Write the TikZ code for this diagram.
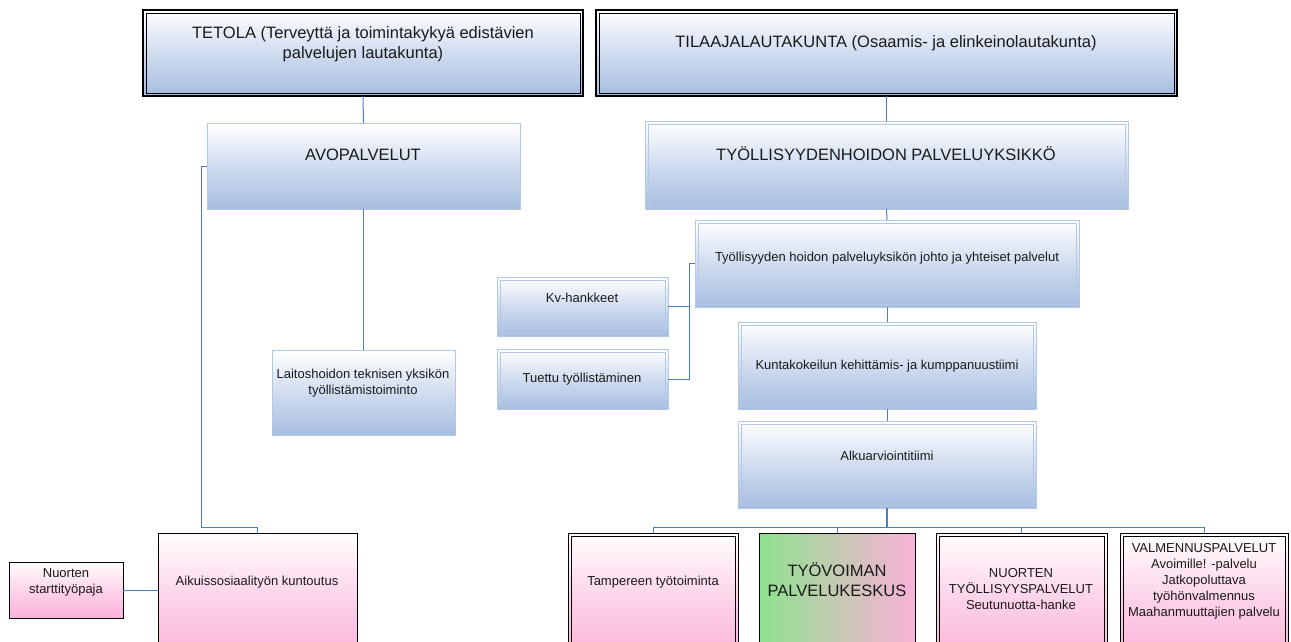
\documentclass[tikz,border=0pt]{standalone}
\usepackage{fontspec}
\setmainfont{Liberation Sans}
\definecolor{bluebot}{HTML}{A6BDE0}
\definecolor{bluemid}{HTML}{D0DCEF}
\definecolor{lbline}{HTML}{B3C7E7}
\definecolor{pinkc}{HTML}{FBB1D9}
\definecolor{pinkmid}{HTML}{FDD3EA}
\definecolor{greenc}{HTML}{8DE38D}
\definecolor{connc}{HTML}{4A7EC4}
\definecolor{textc}{HTML}{1A1A1A}
\newcommand\mkbox[6]{\node[#1, anchor=north west, inner sep=0pt, outer sep=0pt,
  minimum width={(#5-#3)*1pt}, minimum height={(#6-#4)*1pt}] (#2) at (#3,#4) {};}
\begin{document}
\begin{tikzpicture}[x=1pt,y=-1pt,
  blueg/.style={top color=white, bottom color=bluebot, middle color=bluemid},
  pinkg/.style={top color=white, bottom color=pinkc, middle color=pinkmid},
  topbox/.style={blueg, draw=black, line width=1.4pt},
  lbdouble/.style={blueg, draw=lbline, line width=1pt},
  lbsingle/.style={blueg, draw=lbline, line width=1pt},
  pinkdouble/.style={pinkg, draw=black, line width=1pt},
  pinksingle/.style={pinkg, draw=black, line width=1pt},
  greenbox/.style={left color=greenc, right color=pinkc, draw=black, line width=1pt},
  innerblk/.style={draw=black, line width=0.9pt},
  innerlb/.style={draw=lbline, line width=0.9pt},
  bigt/.style={font=\fontsize{16.5}{20}\selectfont, align=center, inner sep=0pt, text=textc},
  smallt/.style={font=\fontsize{13}{16}\selectfont, align=center, inner sep=0pt, text=textc},
  conn/.style={draw=connc, line width=1pt}]
\useasboundingbox (0,0) rectangle (1291,641);
\clip (0,0) rectangle (1291,641);
\fill[white] (0,0) rectangle (1291,641);

% boxes
\mkbox{topbox}{tetola}{143}{10}{583}{96}
\mkbox{topbox}{tilaaja}{596}{10}{1177}{96}
\mkbox{lbsingle}{avo}{207}{123}{520}{209}
\mkbox{lbdouble}{tyoll}{645}{121}{1128}{209}
\mkbox{lbsingle}{laitos}{272}{350}{455}{435}
\mkbox{lbdouble}{johto}{695}{220}{1079}{307}
\mkbox{lbdouble}{kv}{497}{277}{668}{336}
\mkbox{lbdouble}{tuettu}{497}{349}{668}{409}
\mkbox{lbdouble}{kunta}{738}{322}{1036}{409}
\mkbox{lbdouble}{alku}{738}{421}{1036}{508}
\mkbox{pinksingle}{aikuis}{158}{533}{357}{662}
\mkbox{pinksingle}{start}{9}{562}{123}{618}
\mkbox{pinkdouble}{tamp}{568}{533}{738}{662}
\mkbox{greenbox}{tyov}{759}{533}{915}{662}
\mkbox{pinkdouble}{nuort}{936}{533}{1107}{662}
\mkbox{pinkdouble}{valm}{1120}{533}{1288}{662}

% inner lines of the double borders
\foreach \n in {tetola,tilaaja}
  \draw[innerblk] ([shift={(3,3)}]\n.north west) rectangle ([shift={(-3,-3)}]\n.south east);
\foreach \n in {tamp,nuort,valm}
  \draw[innerblk] ([shift={(3,3)}]\n.north west) rectangle ([shift={(-3,-3)}]\n.south east);
\foreach \n in {tyoll,johto,kv,tuettu,kunta,alku}
  \draw[innerlb] ([shift={(3,3)}]\n.north west) rectangle ([shift={(-3,-3)}]\n.south east);

% texts
\node[bigt] (tetolaT) at (363,44) {TETOLA (Terveyttä ja toimintakykyä edistävien\\palvelujen lautakunta)};
\node[bigt] (tilaajaT) at (886,43) {TILAAJALAUTAKUNTA (Osaamis- ja elinkeinolautakunta)};
\node[bigt] (avoT) at (363,155) {AVOPALVELUT};
\node[bigt] (tyollT) at (886,154) {TYÖLLISYYDENHOIDON PALVELUYKSIKKÖ};
\node[smallt] (laitosT) at (363,383) {Laitoshoidon teknisen yksikön\\työllistämistoiminto};
\node[smallt] (johtoT) at (887,258) {Työllisyyden hoidon palveluyksikön johto ja yhteiset palvelut};
\node[smallt] (kvT) at (582,298) {Kv-hankkeet};
\node[smallt] (tuettuT) at (582,379) {Tuettu työllistäminen};
\node[smallt] (kuntaT) at (887,366) {Kuntakokeilun kehittämis- ja kumppanuustiimi};
\node[smallt] (alkuT) at (887,456) {Alkuarviointitiimi};
\node[smallt] (aikuisT) at (257,582) {Aikuissosiaalityön kuntoutus};
\node[smallt] (startT) at (66,582) {Nuorten\\starttityöpaja};
\node[smallt] (tampT) at (653,582) {Tampereen työtoiminta};
\node[bigt] (tyovT) at (837,580) {TYÖVOIMAN\\PALVELUKESKUS};
\node[smallt] (nuortT) at (1021,589) {NUORTEN\\TYÖLLISYYSPALVELUT\\Seutunuotta-hanke};
\node[smallt] (valmT) at (1204,581) {VALMENNUSPALVELUT\\Avoimille! -palvelu\\Jatkopoluttava\\työhönvalmennus\\Maahanmuuttajien palvelu};

% connectors
\coordinate (lbend) at (201,527);
\coordinate (jb) at (689,263.5);
\coordinate (bus) at (887,527);
\draw[conn] (tetola.south) -- (avo.north);
\draw[conn] (avo.south) -- (laitos.north);
\draw[conn] (avo.west) -| (lbend) -| (aikuis.north);
\draw[conn] (start.east) -- (start.east -| aikuis.west);
\draw[conn] (tilaaja.south) -- (tyoll.north);
\draw[conn] (tyoll.south) -- (johto.north);
\draw[conn] (johto.south) -- (kunta.north);
\draw[conn] (kunta.south) -- (alku.north);
\draw[conn] (johto.west) -- (jb) |- (kv.east);
\draw[conn] (jb) |- (tuettu.east);
\draw[conn, line width=1.6pt] (alku.south) -- (bus);
\draw[conn] (bus) -| (tamp.north);
\draw[conn] (bus) -| (tyov.north);
\draw[conn] (bus) -| (nuort.north);
\draw[conn] (bus) -| (valm.north);
\end{tikzpicture}
\end{document}
